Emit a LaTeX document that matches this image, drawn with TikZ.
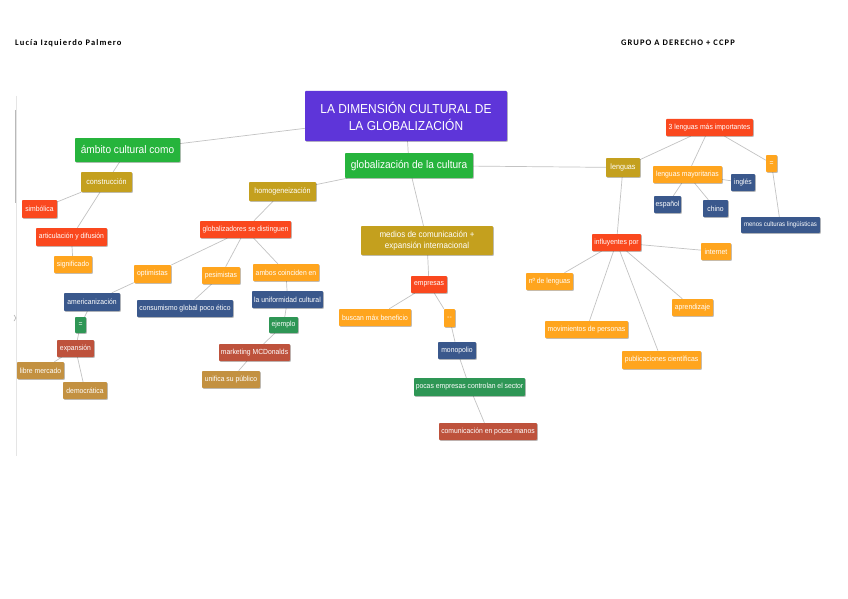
\documentclass[tikz,border=0pt]{standalone}
\usepackage{fontspec}
\setmainfont{Liberation Sans}
\newfontfamily\nf[FakeStretch=0.92]{Liberation Sans}
\newfontfamily\hf[LetterSpace=13]{Carlito}
\usetikzlibrary{shadows,backgrounds}
\definecolor{cPur}{RGB}{94,53,217}
\definecolor{cGrn}{RGB}{38,180,60}
\definecolor{cOli}{RGB}{196,160,30}
\definecolor{cRed}{RGB}{250,72,30}
\definecolor{cOra}{RGB}{255,165,30}
\definecolor{cBlu}{RGB}{58,88,140}
\definecolor{cDgr}{RGB}{46,150,85}
\definecolor{cBrn}{RGB}{190,82,60}
\definecolor{cTan}{RGB}{195,145,65}
\definecolor{cEdge}{RGB}{195,195,195}
\tikzset{
  x=1pt, y=-1pt,
  bx/.style={fill=#1, text=white, font=\nf\fontsize{7.4}{8.5}\selectfont, inner sep=1pt,
    rounded corners=0.8pt,
    drop shadow={shadow xshift=0.8pt, shadow yshift=-0.8pt, opacity=0.25, fill=black}},
  sz/.style 2 args={minimum width=#1pt, minimum height=#2pt},
  ed/.style={draw=cEdge, line width=0.7pt},
  big/.style={font=\nf\fontsize{11}{13}\selectfont},
  mid/.style={font=\nf\fontsize{7.8}{9}\selectfont},
  sml/.style={font=\nf\fontsize{6.6}{7.5}\selectfont},
  head/.style={font=\hf\bfseries\fontsize{8.5}{10}\selectfont, anchor=west, inner sep=0}
}
\begin{document}
\begin{tikzpicture}
\useasboundingbox (0,0) rectangle (848,599);
\begin{pgfonlayer}{background}
\fill[white] (0,0) rectangle (848,599);
\end{pgfonlayer}
% header
\node[head] (author) at (15,43) {Lucía Izquierdo Palmero};
\node[head] (group) at (621,43) {GRUPO A DERECHO + CCPP};
% left frame line
\draw[gray!20, line width=1pt] (16.5,96) -- (16.5,456);
\draw[gray!55, line width=0.8pt] (15.5,110) -- (15.5,203);
\draw[gray!60, line width=0.6pt] (14,315) -- (16,318) -- (14,321);
% nodes
\node[bx=cPur, sz={202}{50}, font=\nf\fontsize{13}{17}\selectfont, align=center] (title) at (406,116) {LA DIMENSIÓN CULTURAL DE\\LA GLOBALIZACIÓN};
\node[bx=cGrn, sz={105}{24}, big] (amb) at (127.5,150) {ámbito cultural como};
\node[bx=cGrn, sz={128}{25}, font=\nf\fontsize{11}{13}\selectfont] (glob) at (409,165.5) {globalización de la cultura};
\node[bx=cOli, sz={51}{20}, mid] (constr) at (106.5,182) {construcción};
\node[bx=cRed, sz={35}{18}] (simb) at (39.5,209) {simbólica};
\node[bx=cRed, sz={71}{18}] (artic) at (71.5,237) {articulación y difusión};
\node[bx=cOra, sz={38}{17}] (signif) at (73,264.5) {significado};
\node[bx=cOli, sz={67}{19}, mid] (homog) at (282.5,191.5) {homogeneización};
\node[bx=cRed, sz={91}{17}] (globz) at (245.5,229.5) {globalizadores se distinguen};
\node[bx=cOra, sz={37}{18}] (optim) at (152.5,274) {optimistas};
\node[bx=cOra, sz={38}{17}] (pesim) at (221,275.5) {pesimistas};
\node[bx=cOra, sz={66}{17}] (ambos) at (286,272.5) {ambos coinciden en};
\node[bx=cBlu, sz={56}{18}] (americ) at (92,302) {americanización};
\node[bx=cBlu, sz={96}{17}] (consum) at (185,308.5) {consumismo global poco ético};
\node[bx=cBlu, sz={71}{17}] (unif) at (287.5,299.5) {la uniformidad cultural};
\node[bx=cDgr, sz={11}{16}] (eqa) at (80.5,325) {=};
\node[bx=cDgr, sz={29}{16}] (ejem) at (283.5,325) {ejemplo};
\node[bx=cBrn, sz={37}{17}] (expan) at (75.5,348.5) {expansión};
\node[bx=cBrn, sz={71}{17}] (mktg) at (254.5,352.5) {marketing MCDonalds};
\node[bx=cTan, sz={47}{17}] (libre) at (40.5,370.5) {libre mercado};
\node[bx=cTan, sz={44}{17}] (democ) at (85,390.5) {democrática};
\node[bx=cTan, sz={58}{17}] (unifica) at (231,379.5) {unifica su público};
\node[bx=cOli, sz={132}{29}, align=center, font=\nf\fontsize{8.7}{10.5}\selectfont] (medios) at (427,240.5) {medios de comunicación +\\expansión internacional};
\node[bx=cRed, sz={36}{17}] (empre) at (429,284.5) {empresas};
\node[bx=cOra, sz={72}{17}] (buscan) at (375,317.5) {buscan máx beneficio};
\node[bx=cOra, sz={11}{18}] (minus) at (449.5,318) {--};
\node[bx=cBlu, sz={38}{17}] (monop) at (457,350.5) {monopolio};
\node[bx=cDgr, sz={111}{18}] (pocas) at (469.5,387) {pocas empresas controlan el sector};
\node[bx=cBrn, sz={98}{17}] (comun) at (488,431.5) {comunicación en pocas manos};
\node[bx=cOli, sz={34}{19}, mid] (leng) at (623,167.5) {lenguas};
\node[bx=cRed, sz={87}{17}] (tres) at (709.5,127.5) {3 lenguas más importantes};
\node[bx=cOra, sz={69}{17}] (mayor) at (687.5,174.5) {lenguas mayoritarias};
\node[bx=cOra, sz={11}{17}] (eqb) at (771.5,163.5) {=};
\node[bx=cBlu, sz={24}{17}] (ingles) at (743,182.5) {inglés};
\node[bx=cBlu, sz={27}{17}] (espa) at (667.5,204.5) {español};
\node[bx=cBlu, sz={25}{17}] (chino) at (715.5,208.5) {chino};
\node[bx=cBlu, sz={79}{16}, sml] (menos) at (780.5,225) {menos culturas lingüísticas};
\node[bx=cRed, sz={49}{17}] (influ) at (616.5,242.5) {influyentes por};
\node[bx=cOra, sz={30}{17}] (inter) at (716,251.5) {internet};
\node[bx=cOra, sz={47}{17}] (nlen) at (549.5,281.5) {nº de lenguas};
\node[bx=cOra, sz={41}{17}] (apren) at (692.5,307.5) {aprendizaje};
\node[bx=cOra, sz={83}{17}] (movim) at (586.5,329.5) {movimientos de personas};
\node[bx=cOra, sz={79}{18}] (public) at (661.5,360) {publicaciones científicas};
% connectors
\begin{pgfonlayer}{background}
\draw[ed] (title) -- (amb);
\draw[ed] (title) -- (glob);
\draw[ed] (amb) -- (constr);
\draw[ed] (constr) -- (simb);
\draw[ed] (constr) -- (artic);
\draw[ed] (artic) -- (signif);
\draw[ed] (glob) -- (homog);
\draw[ed] (glob) -- (medios);
\draw[ed] (glob) -- (leng);
\draw[ed] (homog) -- (globz);
\draw[ed] (globz) -- (optim);
\draw[ed] (globz) -- (pesim);
\draw[ed] (globz) -- (ambos);
\draw[ed] (optim) -- (americ);
\draw[ed] (americ) -- (eqa);
\draw[ed] (eqa) -- (expan);
\draw[ed] (expan) -- (libre);
\draw[ed] (expan) -- (democ);
\draw[ed] (pesim) -- (consum);
\draw[ed] (ambos) -- (unif);
\draw[ed] (unif) -- (ejem);
\draw[ed] (ejem) -- (mktg);
\draw[ed] (mktg) -- (unifica);
\draw[ed] (medios) -- (empre);
\draw[ed] (empre) -- (buscan);
\draw[ed] (empre) -- (minus);
\draw[ed] (minus) -- (monop);
\draw[ed] (monop) -- (pocas);
\draw[ed] (pocas) -- (comun);
\draw[ed] (leng) -- (tres);
\draw[ed] (leng) -- (influ);
\draw[ed] (tres) -- (mayor);
\draw[ed] (tres) -- (eqb);
\draw[ed] (mayor) -- (ingles);
\draw[ed] (mayor) -- (espa);
\draw[ed] (mayor) -- (chino);
\draw[ed] (eqb) -- (menos);
\draw[ed] (influ) -- (inter);
\draw[ed] (influ) -- (nlen);
\draw[ed] (influ) -- (apren);
\draw[ed] (influ) -- (movim);
\draw[ed] (influ) -- (public);
\end{pgfonlayer}
\end{tikzpicture}
\end{document}
